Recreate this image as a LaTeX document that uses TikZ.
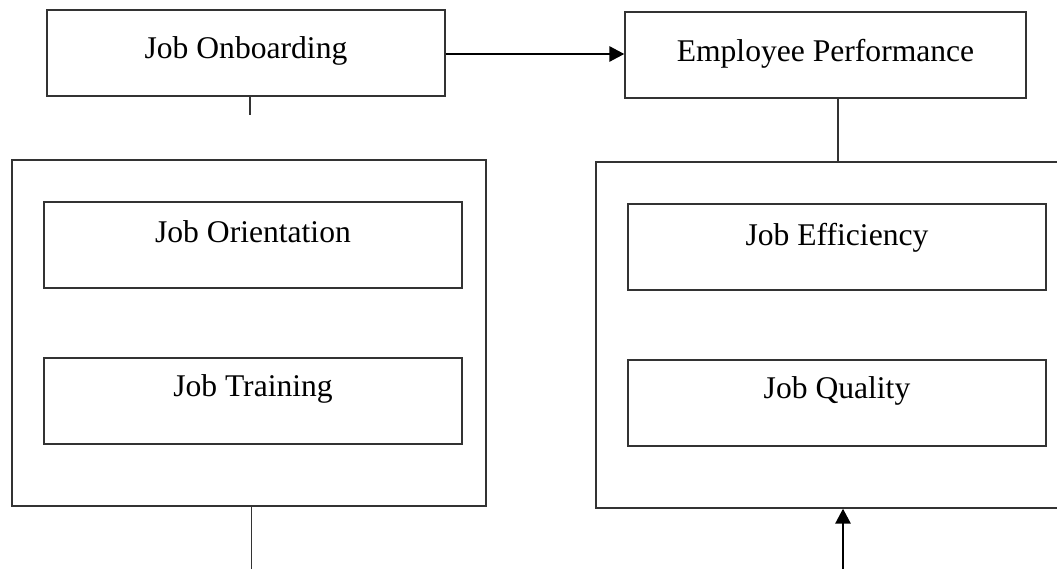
\documentclass[tikz,border=0pt]{standalone}
\usepackage{fontspec}
\setmainfont{Liberation Serif}
\usetikzlibrary{arrows.meta}
\begin{document}
\begin{tikzpicture}[x=1pt,y=-1pt,
  box/.style={draw=black!80, line width=1.3pt, rectangle, inner sep=0pt, minimum height=86pt},
  lbl/.style={anchor=base, inner sep=0pt, font=\fontsize{31.6}{36}\selectfont},
  link/.style={draw=black!80, line width=1.1pt},
  flow/.style={draw=black, line width=2.8pt, -{Triangle[length=15pt,width=15pt]}}]
\useasboundingbox (0,0) rectangle (1057,569);
\clip (0,0) rectangle (1057,569);

% top row
\node[box, minimum width=398pt] (onb) at (246,53) {};
\node[lbl] (onbT) at ([yshift=-49pt]onb.north) {Job Onboarding};
\node[box, minimum width=401pt] (perf) at (825.5,55) {};
\node[lbl] (perfT) at ([yshift=-50pt]perf.north) {Employee Performance};

% left group
\node[box, minimum width=474pt, minimum height=346pt] (leftgrp) at (249,333) {};
\node[box, minimum width=418pt] (orient) at (253,245) {};
\node[lbl] (orientT) at ([yshift=-41pt]orient.north) {Job Orientation};
\node[box, minimum width=418pt] (train) at (253,401) {};
\node[lbl] (trainT) at ([yshift=-39pt]train.north) {Job Training};

% right group (runs past the right border)
\node[box, minimum width=474pt, minimum height=346pt] (rightgrp) at (833,335) {};
\node[box, minimum width=418pt] (effic) at (837,247) {};
\node[lbl] (efficT) at ([yshift=-42pt]effic.north) {Job Efficiency};
\node[box, minimum width=418pt] (qual) at (837,403) {};
\node[lbl] (qualT) at ([yshift=-39pt]qual.north) {Job Quality};

% connectors
\coordinate (onbStub) at (250,115);
\draw[link] (onb.south -| onbStub) -- (onbStub);
\draw[flow] ([yshift=-1pt]onb.east) -- ([yshift=-1pt]onb.east -| perf.west);
\coordinate (perfJoin) at (838,0);
\draw[link] (perf.south -| perfJoin) -- (rightgrp.north -| perfJoin);
\coordinate (leftEnd) at (251.5,570);
\draw[link] (leftgrp.south -| leftEnd) -- (leftEnd);
\coordinate (rightStart) at (843,570);
\draw[flow] (rightStart) -- (rightgrp.south -| rightStart);
\end{tikzpicture}
\end{document}
